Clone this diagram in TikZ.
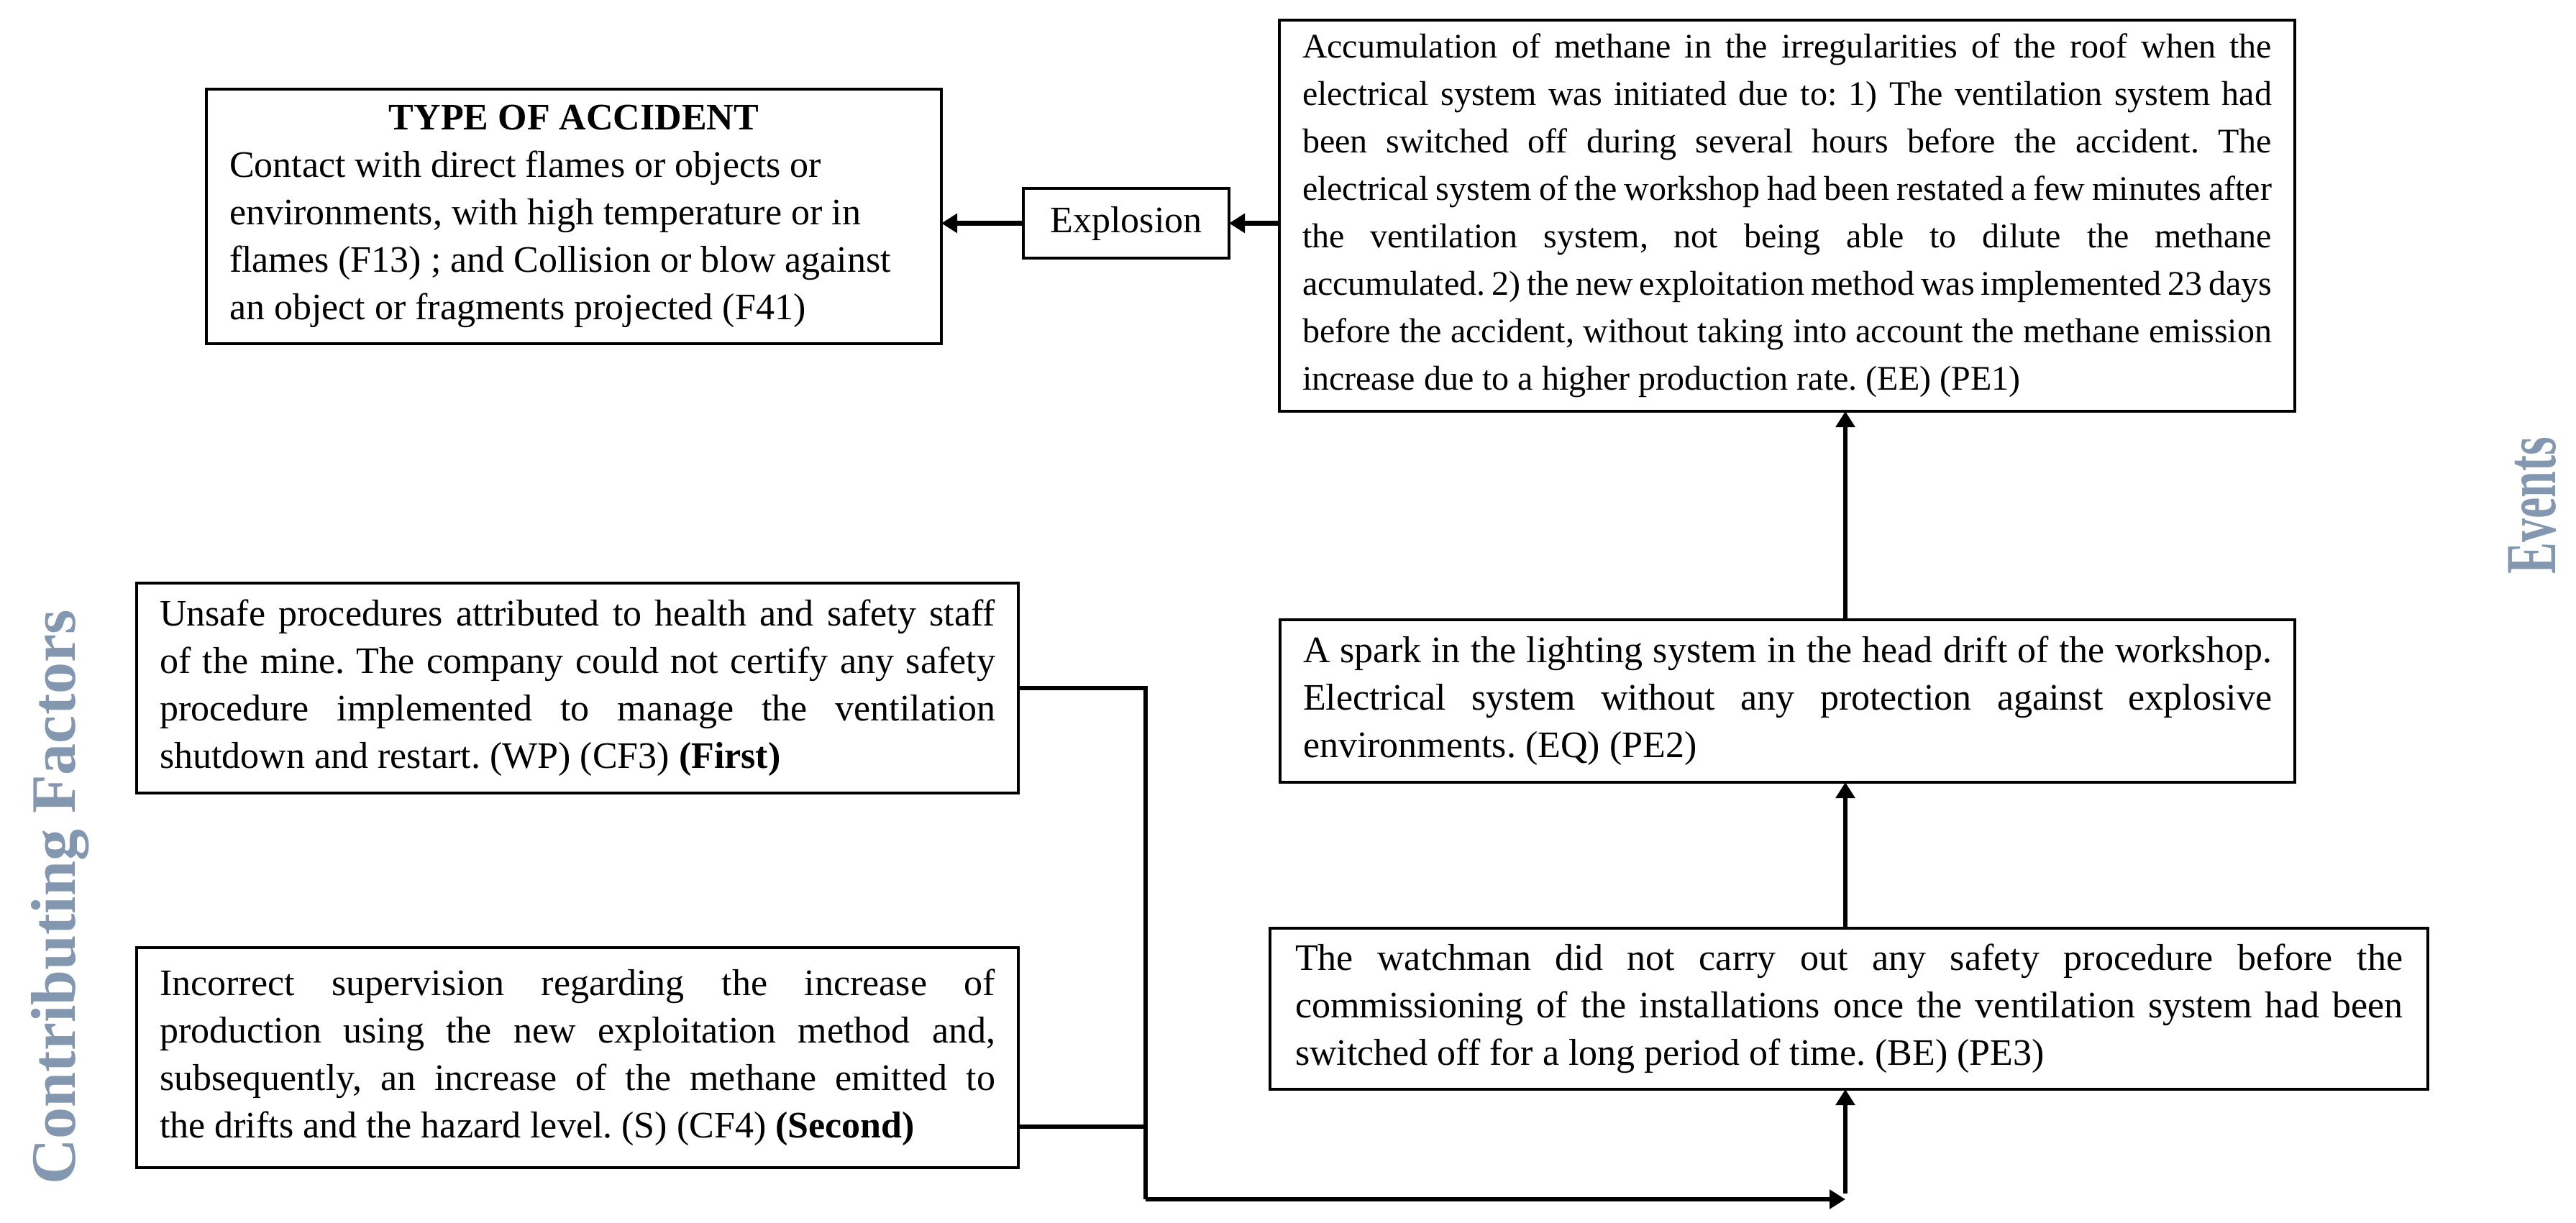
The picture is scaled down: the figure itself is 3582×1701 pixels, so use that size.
\documentclass[tikz,border=0pt]{standalone}
\usepackage{fontspec}
\usepackage{graphicx}
\setmainfont{Liberation Serif}
\usetikzlibrary{arrows.meta}
\definecolor{labelblue}{RGB}{132,151,176}
\frenchspacing
\newcommand\JL[2]{\hbox to #1{#2}}
\newcommand\LL[2]{\hbox to #1{#2\hfil}}
\newcommand\CL[2]{\hbox to #1{\hfil#2\hfil}}
\begin{document}
\begin{tikzpicture}[x=0.5pt,y=-0.5pt,
  box/.style={draw, line width=2.3pt, rectangle, anchor=north west, inner sep=0pt, outer sep=0pt, font=\fontsize{26pt}{33pt}\selectfont},
  conn/.style={line width=3.4pt},
  arr/.style={line width=3.4pt, -{Triangle[length=11pt,width=13pt]}},
  side/.style={rotate=90, anchor=base, text=labelblue, font=\fontsize{44pt}{44pt}\selectfont\bfseries}]
\useasboundingbox (0,0) rectangle (3582,1701);

\node[box, minimum width=511pt, minimum height=177pt] (type) at (287,124) {\vbox{%
\CL{479pt}{\bfseries TYPE OF ACCIDENT}
\LL{479pt}{Contact with direct flames or objects or}
\LL{479pt}{environments, with high temperature or in}
\LL{479pt}{flames (F13) ; and Collision or blow against}
\LL{479pt}{an object or fragments projected (F41)}}};

\node[box, minimum width=143pt, minimum height=48.5pt] (expl) at (1423,262) {Explosion};

\node[box, minimum width=706pt, minimum height=272pt, font=\fontsize{24pt}{33pt}\selectfont] (meth) at (1779,28) {\vbox{%
\JL{674pt}{Accumulation of methane in the irregularities of the roof when the}
\JL{674pt}{electrical system was initiated due to: 1) The ventilation system had}
\JL{674pt}{been switched off during several hours before the accident. The}
\JL{674pt}{electrical system of the workshop had been restated a few minutes after}
\JL{674pt}{the ventilation system, not being able to dilute the methane}
\JL{674pt}{accumulated. 2) the new exploitation method was implemented 23 days}
\JL{674pt}{before the accident, without taking into account the methane emission}
\LL{674pt}{increase due to a higher production rate. (EE) (PE1)}}};

\node[box, minimum width=705.5pt, minimum height=113pt] (spark) at (1780,862) {\vbox{%
\JL{673.5pt}{A spark in the lighting system in the head drift of the workshop.}
\JL{673.5pt}{Electrical system without any protection against explosive}
\LL{673.5pt}{environments. (EQ) (PE2)}}};

\node[box, minimum width=805pt, minimum height=112pt] (watch) at (1766,1291) {\vbox{%
\JL{770pt}{The watchman did not carry out any safety procedure before the}
\JL{770pt}{commissioning of the installations once the ventilation system had been}
\LL{770pt}{switched off for a long period of time. (BE) (PE3)}}};

\node[box, minimum width=613pt, minimum height=146pt] (unsafe) at (190,811) {\vbox{%
\JL{581pt}{Unsafe procedures attributed to health and safety staff}
\JL{581pt}{of the mine. The company could not certify any safety}
\JL{581pt}{procedure implemented to manage the ventilation}
\LL{581pt}{shutdown and restart. (WP) (CF3) \textbf{(First)}}}};

\node[box, minimum width=613pt, minimum height=153pt] (incorr) at (190,1318) {\vbox{%
\JL{581pt}{Incorrect supervision regarding the increase of}
\JL{581pt}{production using the new exploitation method and,}
\JL{581pt}{subsequently, an increase of the methane emitted to}
\LL{581pt}{the drifts and the hazard level. (S) (CF4) \textbf{(Second)}}}};

\node[side] (cf) at (104,1248) {Contributing Factors};
\node[side, font=\fontsize{50pt}{50pt}\selectfont\bfseries] (ev) at (3553,703) {\scalebox{0.66}[1]{Events}};

\coordinate (elbow) at (1593,1668);
\coordinate (tip) at (2566,1668);
\coordinate (junction) at (2566,1660);

\draw[arr] (meth.west |- expl.east) -- (expl.east);
\draw[arr] (expl.west) -- (type.east |- expl.west);
\draw[arr] (spark.north -| tip) -- (meth.south -| tip);
\draw[arr] (watch.north -| tip) -- (spark.south -| tip);
\draw[arr] (junction) -- (watch.south -| tip);
\draw[conn] (unsafe.east) -| (elbow);
\draw[conn] (incorr.east |- 0,1567) -- (elbow |- 0,1567);
\draw[arr] (elbow) -- (tip);
\end{tikzpicture}
\end{document}
